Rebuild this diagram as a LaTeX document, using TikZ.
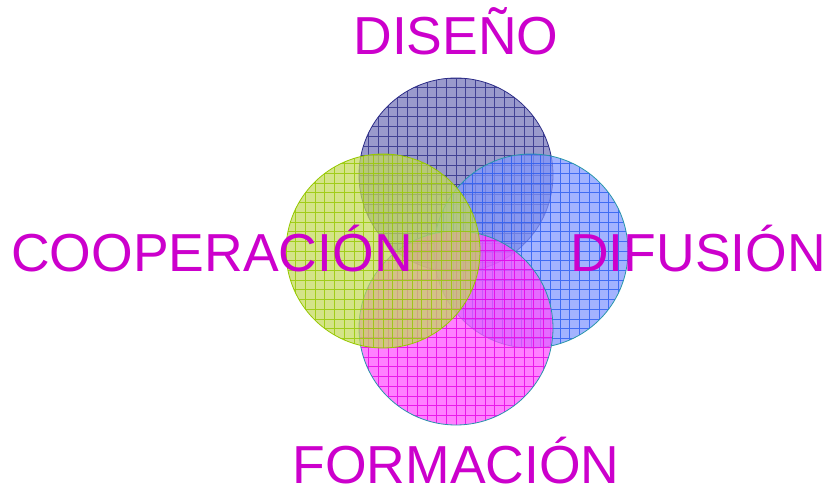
\documentclass[tikz,border=0pt]{standalone}
\usepackage{fontspec}
\setmainfont{Liberation Sans}
\usepackage{xcolor}
\usetikzlibrary{positioning, calc}

\definecolor{titlecol}{RGB}{204,0,204}
\definecolor{topfill}{RGB}{115,115,185}
\definecolor{topline}{RGB}{45,45,135}
\definecolor{rightfill}{RGB}{128,150,255}
\definecolor{rightline}{RGB}{40,90,240}
\definecolor{botfill}{RGB}{255,80,255}
\definecolor{botline}{RGB}{230,0,230}
\definecolor{leftfill}{RGB}{195,218,90}
\definecolor{leftline}{RGB}{150,200,0}
\definecolor{rimteal}{RGB}{40,150,170}

\tikzset{
  bubble/.style n args={3}{circle, minimum size=194pt, inner sep=0pt,
    draw=#1, line width=0.8pt, fill=#2, fill opacity=0.72,
    path picture={\draw[#3, line width=0.7pt, draw opacity=0.8, step=9.7pt]
      (path picture bounding box.south west) grid (path picture bounding box.north east);}},
  areaname/.style={text=titlecol, anchor=base, inner sep=0pt,
    font=\fontsize{53.5}{60}\selectfont}
}

\begin{document}
\begin{tikzpicture}[x=1pt, y=-1pt]
\useasboundingbox (0,0) rectangle (828,489);

% circles
\node[bubble={topline}{topfill}{topline}] (diseno) at (456,175) {};
\node[bubble={rimteal}{rightfill}{rightline}] (difusion) at (531,251) {};
\node[bubble={rimteal}{botfill}{botline}] (formacion) at (456,328) {};
\node[bubble={leftline}{leftfill}{leftline}] (cooperacion) at (383,251) {};

% names
\node[areaname] (tdiseno) at (456,55) {DISEÑO};
\node[areaname] (tcoop) at (212,272) {COOPERACIÓN};
\node[areaname] (tdifu) at (698,272) {DIFUSIÓN};
\node[areaname] (tform) at (456,483) {FORMACIÓN};
\end{tikzpicture}
\end{document}
